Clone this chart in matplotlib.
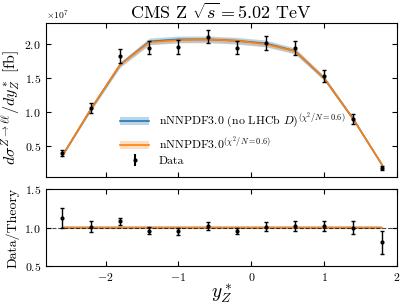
import numpy as np
import matplotlib
matplotlib.use('Agg')
import matplotlib.pyplot as plt
from matplotlib.patches import Patch
from matplotlib.lines import Line2D

plt.rcParams['font.family'] = 'serif'
plt.rcParams['font.serif'] = ['cmr10', 'DejaVu Serif']
plt.rcParams['mathtext.fontset'] = 'cm'
plt.rcParams['axes.formatter.use_mathtext'] = True

# rapidity bins
y_star = [-2.6, -2.2, -1.8, -1.4, -1.0, -0.6, -0.2, 0.2, 0.6, 1.0, 1.4, 1.8]

# data (x 1e7 fb)
data = [0.40, 1.06, 1.83, 1.95, 1.96, 2.11, 1.95, 2.02, 1.94, 1.53, 0.90, 0.18]
data_err = [0.04, 0.08, 0.10, 0.10, 0.10, 0.10, 0.10, 0.10, 0.10, 0.09, 0.07, 0.03]

# theory predictions (x 1e7 fb)
th_nolhcb = [0.35, 1.05, 1.70, 2.04, 2.07, 2.07, 2.05, 2.01, 1.90, 1.50, 0.90, 0.22]
th_nolhcb_err = [0.012, 0.03, 0.04, 0.05, 0.05, 0.05, 0.05, 0.05, 0.045, 0.035, 0.025, 0.008]
th_full = [0.35, 1.05, 1.70, 2.03, 2.06, 2.07, 2.05, 2.00, 1.90, 1.50, 0.90, 0.22]
th_full_err = [0.008, 0.02, 0.03, 0.035, 0.035, 0.035, 0.035, 0.035, 0.03, 0.025, 0.02, 0.006]

# data / theory
ratio = [1.13, 1.01, 1.08, 0.96, 0.95, 1.02, 0.95, 1.01, 1.02, 1.02, 1.00, 0.81]
ratio_err = [0.13, 0.07, 0.05, 0.05, 0.05, 0.05, 0.04, 0.06, 0.06, 0.06, 0.08, 0.15]

blue = '#1f77b4'
orange = '#ff7f0e'

x = np.array(y_star)
scale = 1e7

fig = plt.figure(figsize=(4.07, 3.05), dpi=100)
ax1 = fig.add_axes([0.113, 0.42, 0.862, 0.505])
ax2 = fig.add_axes([0.113, 0.128, 0.862, 0.252], sharex=ax1)

# top panel
t1 = np.array(th_nolhcb) * scale
e1 = np.array(th_nolhcb_err) * scale
t2 = np.array(th_full) * scale
e2 = np.array(th_full_err) * scale
ax1.fill_between(x, t1 - e1, t1 + e1, color=blue, alpha=0.3, lw=0)
ax1.plot(x, t1, color=blue, lw=1.2)
ax1.fill_between(x, t2 - e2, t2 + e2, color=orange, alpha=0.25, lw=0)
ax1.plot(x, t2, color=orange, lw=1.2)
ax1.errorbar(x, np.array(data) * scale, yerr=np.array(data_err) * scale,
             fmt='o', color='black', ms=2, capsize=1.5, elinewidth=1, capthick=1)

ax1.set_ylabel(r'$d\sigma^{Z\rightarrow\ell\ell}/dy_Z^*$ [fb]', fontsize=11.5)
ax1.yaxis.set_label_coords(-0.068, 0.45)
ax1.set_title(r'CMS Z $\sqrt{s}=5.02$ TeV', fontsize=13, pad=3)
ax1.set_yticks([0.5e7, 1.0e7, 1.5e7, 2.0e7])
ax1.tick_params(direction='in', labelsize=8.5, top=True, right=True, labelbottom=False)
ax1.yaxis.get_offset_text().set_fontsize(7)

h1 = (Patch(facecolor=blue, alpha=0.3), Line2D([], [], color=blue, lw=1.2))
h2 = (Patch(facecolor=orange, alpha=0.25), Line2D([], [], color=orange, lw=1.2))
h3 = ax1.errorbar([], [], yerr=[], fmt='o', color='black', ms=2, capsize=1.5)
ax1.legend([h1, h2, h3],
           [r'nNNPDF3.0 (no LHCb $D$)$^{(\chi^2/N=0.6)}$',
            r'nNNPDF3.0$^{(\chi^2/N=0.6)}$', 'Data'],
           loc='lower left', bbox_to_anchor=(0.18, 0.0), frameon=False,
           fontsize=8.5, handlelength=2.5, labelspacing=0.3)

# bottom panel
ax2.fill_between(x, 1 - 0.025, 1 + 0.025, color=blue, alpha=0.3, lw=0)
ax2.fill_between(x, 1 - 0.017, 1 + 0.017, color=orange, alpha=0.25, lw=0)
ax2.plot(x, np.ones_like(x), color=orange, lw=1.2)
ax2.axhline(1.0, color='black', ls='--', lw=0.8, alpha=0.7)
ax2.errorbar(x, ratio, yerr=ratio_err, fmt='o', color='black', ms=2,
             capsize=1.5, elinewidth=1, capthick=1)
ax2.set_ylim(0.5, 1.5)
ax2.set_yticks([0.5, 1.0, 1.5])
ax2.set_xlim(-2.82, 2.0)
ax2.set_xticks([-2, -1, 0, 1, 2])
ax2.set_ylabel('Data/Theory', fontsize=10)
ax2.yaxis.set_label_coords(-0.075, 0.5)
ax2.set_xlabel(r'$y_Z^*$', fontsize=14, labelpad=0)
ax2.tick_params(direction='in', labelsize=8.5, top=True, right=True)

fig.savefig('out.png', dpi=100)
